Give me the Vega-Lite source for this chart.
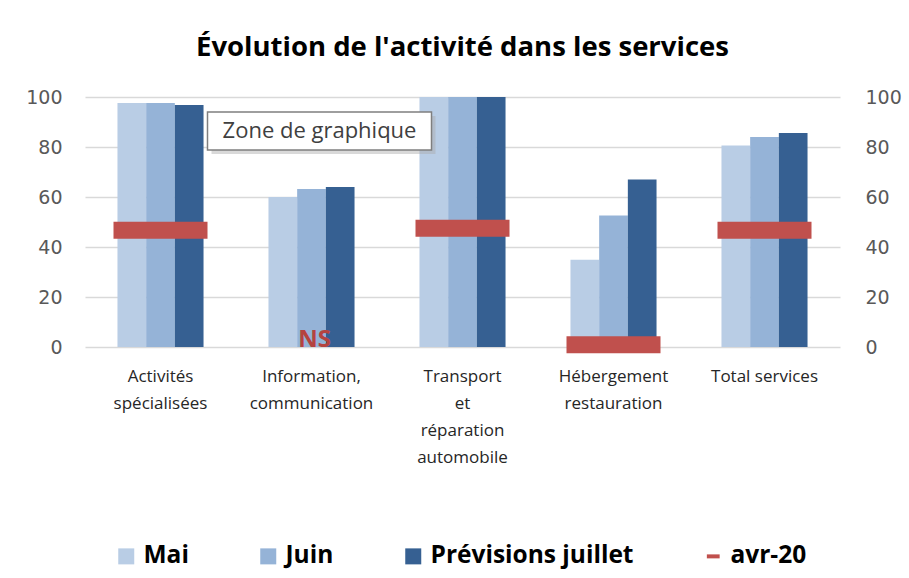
{
  "$schema": "https://vega.github.io/schema/vega-lite/v6.json",
  "width": 755,
  "height": 250,
  "autosize": {"type": "none"},
  "padding": {"left": 85, "top": 97, "right": 69, "bottom": 231},
  "background": "white",
  "title": {
    "text": "Évolution de l'activité dans les services",
    "anchor": "middle",
    "font": "Open Sans",
    "fontSize": 27.5,
    "fontWeight": "bold",
    "color": "#000000",
    "offset": 27
  },
  "datasets": {
    "barres": [
      {"categorie": "Activités spécialisées", "serie": "Mai", "valeur": 97.6},
      {"categorie": "Activités spécialisées", "serie": "Juin", "valeur": 97.6},
      {"categorie": "Activités spécialisées", "serie": "Prévisions juillet", "valeur": 96.8},
      {"categorie": "Information, communication", "serie": "Mai", "valeur": 60},
      {"categorie": "Information, communication", "serie": "Juin", "valeur": 63.2},
      {"categorie": "Information, communication", "serie": "Prévisions juillet", "valeur": 64},
      {"categorie": "Transport et réparation automobile", "serie": "Mai", "valeur": 100},
      {"categorie": "Transport et réparation automobile", "serie": "Juin", "valeur": 100},
      {"categorie": "Transport et réparation automobile", "serie": "Prévisions juillet", "valeur": 100},
      {"categorie": "Hébergement restauration", "serie": "Mai", "valeur": 34.9},
      {"categorie": "Hébergement restauration", "serie": "Juin", "valeur": 52.6},
      {"categorie": "Hébergement restauration", "serie": "Prévisions juillet", "valeur": 67},
      {"categorie": "Total services", "serie": "Mai", "valeur": 80.6},
      {"categorie": "Total services", "serie": "Juin", "valeur": 84},
      {"categorie": "Total services", "serie": "Prévisions juillet", "valeur": 85.6}
    ],
    "avril": [
      {"categorie": "Activités spécialisées", "serie": "avr-20", "valeur": 46.7},
      {"categorie": "Transport et réparation automobile", "serie": "avr-20", "valeur": 47.5},
      {"categorie": "Hébergement restauration", "serie": "avr-20", "valeur": 0.9},
      {"categorie": "Total services", "serie": "avr-20", "valeur": 46.7}
    ],
    "ns": [
      {"categorie": "Information, communication", "valeur": 0, "texte": "NS"}
    ],
    "infobulle": [
      {"categorie": "Information, communication", "valeur": 86.4, "texte": "Zone de graphique"}
    ]
  },
  "encoding": {
    "x": {
      "field": "categorie",
      "type": "nominal",
      "sort": ["Activités spécialisées", "Information, communication", "Transport et réparation automobile", "Hébergement restauration", "Total services"],
      "scale": {"paddingInner": 0.43, "paddingOuter": 0.215},
      "axis": {
        "title": null,
        "labelAngle": 0,
        "domain": false,
        "ticks": false,
        "labelPadding": 21,
        "labelBaseline": "top",
        "labelFont": "Open Sans",
        "labelFontSize": 17,
        "labelColor": "#262626",
        "labelLineHeight": 27,
        "labelLimit": 0,
        "labelExpr": "datum.value == 'Total services' ? datum.value : split(datum.value, ' ')"
      }
    }
  },
  "layer": [
    {
      "data": {"name": "barres"},
      "mark": {"type": "bar"},
      "encoding": {
        "xOffset": {
          "field": "serie",
          "type": "nominal",
          "sort": ["Mai", "Juin", "Prévisions juillet"],
          "scale": {"paddingInner": 0, "paddingOuter": 0}
        },
        "y": {
          "field": "valeur",
          "type": "quantitative",
          "scale": {"domain": [0, 100], "nice": false},
          "axis": {
            "orient": "left",
            "title": null,
            "values": [0, 20, 40, 60, 80, 100],
            "grid": true,
            "gridColor": "#D9D9D9",
            "gridWidth": 1.5,
            "domain": false,
            "ticks": false,
            "labelPadding": 23,
            "labelFont": "DejaVu Sans",
            "labelFontSize": 19,
            "labelColor": "#595959"
          }
        },
        "color": {
          "field": "serie",
          "type": "nominal",
          "scale": {
            "domain": ["Mai", "Juin", "Prévisions juillet", "avr-20"],
            "range": ["#B9CDE5", "#95B3D7", "#366092", "#C0504D"]
          },
          "legend": {
            "title": null,
            "orient": "none",
            "direction": "horizontal",
            "legendX": 29,
            "legendY": 447,
            "symbolType": "square",
            "symbolSize": 256,
            "symbolStrokeWidth": 0,
            "symbolOpacity": 1,
            "labelFont": "Open Sans",
            "labelFontSize": 24.5,
            "labelFontWeight": "bold",
            "labelColor": "#000000",
            "labelOffset": 5,
            "labelLimit": 0,
            "columnPadding": 67,
            "encode": {
              "symbols": {
                "update": {
                  "shape": {"signal": "datum.value === 'avr-20' ? 'M-0.8,-0.25L0.8,-0.25L0.8,0.25L-0.8,0.25Z' : 'square'"}
                }
              }
            }
          }
        }
      }
    },
    {
      "data": {"name": "avril"},
      "mark": {"type": "tick", "size": 94, "thickness": 17, "opacity": 1},
      "encoding": {
        "y": {
          "field": "valeur",
          "type": "quantitative",
          "scale": {"domain": [0, 100], "nice": false},
          "axis": {
            "orient": "right",
            "title": null,
            "values": [0, 20, 40, 60, 80, 100],
            "grid": false,
            "domain": false,
            "ticks": false,
            "labelPadding": 25,
            "labelFont": "DejaVu Sans",
            "labelFontSize": 19,
            "labelColor": "#595959"
          }
        },
        "color": {"field": "serie", "type": "nominal"}
      }
    },
    {
      "data": {"name": "ns"},
      "mark": {
        "type": "text",
        "font": "Open Sans",
        "fontSize": 24,
        "fontWeight": "bold",
        "color": "#B5433F",
        "baseline": "alphabetic",
        "align": "center",
        "dx": 3
      },
      "encoding": {
        "y": {"field": "valeur", "type": "quantitative", "axis": null},
        "text": {"field": "texte"}
      }
    },
    {
      "data": {"name": "infobulle"},
      "mark": {
        "type": "point",
        "shape": "M-1,-0.17L1,-0.17L1,0.17L-1,0.17Z",
        "size": 50176,
        "filled": true,
        "fill": "#AAAAAA",
        "opacity": 0.45,
        "strokeWidth": 0,
        "xOffset": 12,
        "yOffset": 4
      },
      "encoding": {
        "y": {"field": "valeur", "type": "quantitative", "axis": null}
      }
    },
    {
      "data": {"name": "infobulle"},
      "mark": {
        "type": "point",
        "shape": "M-1,-0.17L1,-0.17L1,0.17L-1,0.17Z",
        "size": 50176,
        "filled": false,
        "fill": "#FFFFFF",
        "fillOpacity": 1,
        "stroke": "#7F7F7F",
        "strokeWidth": 1.5,
        "opacity": 1,
        "xOffset": 8
      },
      "encoding": {
        "y": {"field": "valeur", "type": "quantitative", "axis": null}
      }
    },
    {
      "data": {"name": "infobulle"},
      "mark": {
        "type": "text",
        "font": "Open Sans",
        "fontSize": 22,
        "color": "#404040",
        "baseline": "middle",
        "align": "center",
        "dx": 8
      },
      "encoding": {
        "y": {"field": "valeur", "type": "quantitative", "axis": null},
        "text": {"field": "texte"}
      }
    }
  ],
  "resolve": {"axis": {"y": "independent"}},
  "config": {
    "view": {"stroke": null},
    "axis": {"gridColor": "#D9D9D9"}
  }
}
